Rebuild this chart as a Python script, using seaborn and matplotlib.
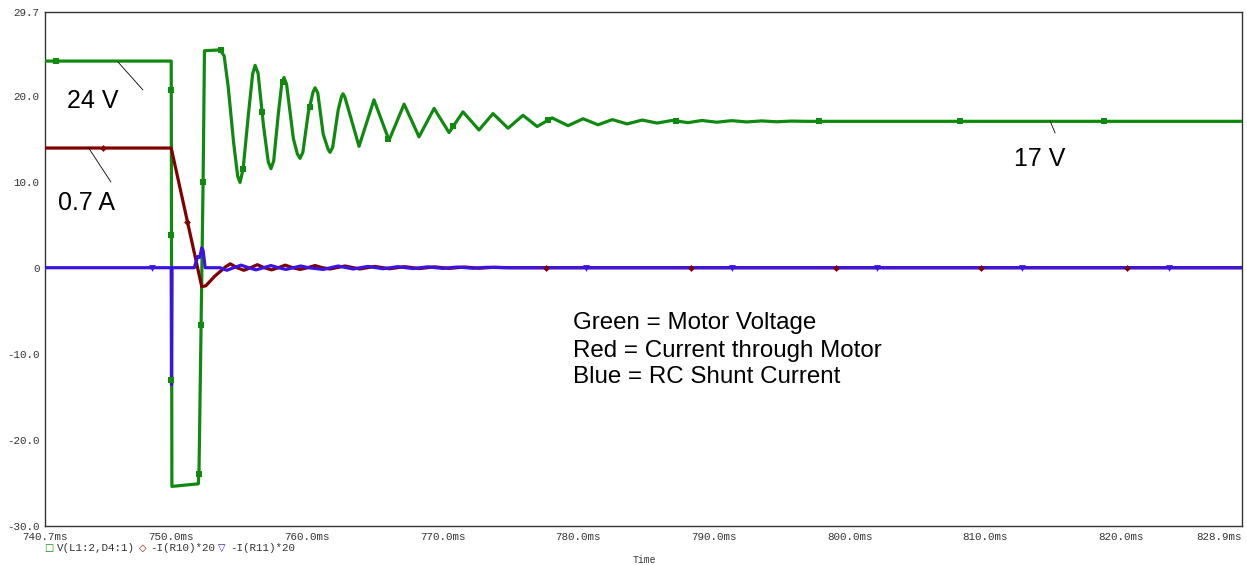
import numpy as np
import matplotlib
matplotlib.use("Agg")
import matplotlib.pyplot as plt
import seaborn as sns

# green trace: V(L1:2,D4:1)
green_t = [740.7, 750.0, 750.05, 752.0, 752.05, 752.35, 752.45, 753.6, 753.9, 754.2, 754.6, 754.9,
           755.07, 755.3, 755.7, 756.0, 756.18, 756.4, 756.8, 757.15, 757.35, 757.55,
           757.9, 758.15, 758.31, 758.5, 759.0, 759.3, 759.49, 759.7, 760.1, 760.45,
           760.6, 760.8, 761.2, 761.55, 761.7, 761.9, 762.3, 762.55, 762.66, 762.8,
           763.84, 764.94, 766.05, 767.16, 768.26, 769.37, 770.47, 771.5, 772.68, 773.71,
           774.82, 775.92, 776.96, 778.06, 779.24, 780.35, 781.45, 782.5, 783.6, 784.7,
           785.8, 786.9, 788.1, 789.1, 790.2, 791.3, 792.4, 793.5, 794.6, 795.7,
           796.8, 828.9]
green_v = [24.0, 24.0, -25.4, -25.1, -23.5, 10.0, 25.2, 25.3, 24.6, 21.0, 14.5, 10.6,
           9.9, 11.5, 18.0, 22.5, 23.5, 22.6, 16.5, 12.3, 11.5, 12.4,
           18.0, 21.4, 22.1, 21.3, 15.0, 13.2, 12.7, 13.4, 18.0, 20.4,
           20.9, 20.3, 15.5, 13.8, 13.4, 14.0, 18.3, 19.9, 20.2, 19.8,
           14.1, 19.5, 14.8, 19.0, 15.2, 18.5, 15.7, 18.1, 16.0, 17.9,
           16.2, 17.7, 16.4, 17.4, 16.5, 17.3, 16.6, 17.2, 16.7, 17.15,
           16.8, 17.1, 16.85, 17.1, 16.9, 17.08, 16.93, 17.05, 16.95, 17.03,
           17.0, 17.0]

# red trace: -I(R10)*20
red_t = [740.7, 750.0, 752.25, 752.55, 753.2, 754.0, 754.35, 754.85, 755.35, 755.85,
         756.35, 756.85, 757.4, 757.9, 758.4, 758.95, 759.5, 760.05, 760.6, 761.15,
         761.7, 762.8, 763.9, 765.0, 766.1, 767.2, 768.3, 769.4, 770.5, 771.6,
         772.7, 773.8, 775.0, 828.9]
red_v = [13.9, 13.9, -2.2, -2.1, -1.0, 0.1, 0.45, 0.0, -0.3, 0.0,
         0.35, 0.0, -0.25, 0.0, 0.3, 0.0, -0.2, 0.0, 0.25, 0.0,
         -0.15, 0.2, -0.15, 0.15, -0.12, 0.12, -0.1, 0.1, -0.08, 0.08,
         -0.06, 0.05, 0.0, 0.0]

# blue trace: -I(R11)*20
blue_t = [740.7, 750.0, 750.02, 750.06, 751.7, 751.95, 752.1, 752.25, 752.35, 752.5,
          753.6, 754.1, 754.6, 755.15, 755.7, 756.25, 756.8, 757.35, 757.9, 758.45,
          759.0, 759.55, 760.1, 761.2, 762.3, 763.4, 764.5, 765.6, 766.7, 767.8,
          768.9, 770.0, 771.1, 772.2, 773.3, 774.5, 828.9]
blue_v = [0, 0, -13.6, 0, 0, 1.3, 1.2, 2.3, 2.0, 0,
          0, -0.3, 0, 0.3, 0, -0.25, 0, 0.25, 0, -0.2,
          0, 0.2, 0, -0.2, 0.2, -0.15, 0.15, -0.12, 0.12, -0.1,
          0.1, -0.08, 0.08, -0.06, 0.05, 0, 0]

# trace symbols
green_mk_t = [741.5, 750.0, 750.0, 750.0, 752.03, 752.2, 752.35, 753.7, 755.3, 756.7,
              758.2, 760.2, 766.0, 770.8, 777.8, 787.2, 797.7, 808.1, 818.7]
green_mk_v = [24.0, 20.6, 3.8, -13.1, -24.0, -6.7, 10.0, 25.3, 11.5, 18.1,
              21.6, 18.7, 14.9, 16.5, 17.2, 17.0, 17.0, 17.0, 17.0]
red_mk_t = [745.0, 751.2, 777.6, 788.3, 799.0, 809.7, 820.4]
red_mk_v = [13.9, 5.3, 0, 0, 0, 0, 0]
blue_mk_t = [748.6, 780.6, 791.3, 802.0, 812.7, 823.5]
blue_mk_v = [0, 0, 0, 0, 0, 0]

xticks = [740.7, 750.0, 760.0, 770.0, 780.0, 790.0, 800.0, 810.0, 820.0, 828.9]
xtick_labels = ['740.7ms', '750.0ms', '760.0ms', '770.0ms', '780.0ms', '790.0ms',
                '800.0ms', '810.0ms', '820.0ms', '828.9ms']
yticks = [-30, -20, -10, 0, 10, 20, 29.7]
ytick_labels = ['-30.0', '-20.0', '-10.0', '0', '10.0', '20.0', '29.7']

legend_labels = ['V(L1:2,D4:1)', '-I(R10)*20', '-I(R11)*20']
notes = ['Green = Motor Voltage', 'Red = Current through Motor', 'Blue = RC Shunt Current']

GREEN = '#0f8a0f'
RED = '#800000'
BLUE = '#3a14e0'
GREY = '#333333'

sns.set_style('white')
plt.rcParams['font.family'] = ['Liberation Sans', 'DejaVu Sans']

W, H = 1247, 565
fig = plt.figure(figsize=(W / 100, H / 100), dpi=100)
ax = fig.add_axes([45 / W, 1 - 526 / H, (1242 - 45) / W, (526 - 12) / H])

sns.lineplot(x=green_t, y=green_v, estimator=None, sort=False, color=GREEN, lw=2.3, ax=ax, zorder=3)
sns.lineplot(x=red_t, y=red_v, estimator=None, sort=False, color=RED, lw=2.3, ax=ax, zorder=4)
sns.lineplot(x=blue_t, y=blue_v, estimator=None, sort=False, color=BLUE, lw=2.3, ax=ax, zorder=5)

sns.scatterplot(x=green_mk_t, y=green_mk_v, marker='s', color=GREEN, s=22, linewidth=0, ax=ax, zorder=6)
sns.scatterplot(x=red_mk_t, y=red_mk_v, marker='D', color=RED, s=12, linewidth=0, ax=ax, zorder=6)
sns.scatterplot(x=blue_mk_t, y=blue_mk_v, marker='v', color=BLUE, s=24, linewidth=0, ax=ax, zorder=6)

ax.set_xlim(740.7, 828.9)
ax.set_ylim(-30, 29.7)
ax.set_xticks(xticks)
ax.set_xticklabels(xtick_labels)
ax.set_yticks(yticks)
ax.set_yticklabels(ytick_labels)
ax.tick_params(direction='out', length=3, width=1, color=GREY, labelcolor=GREY,
               labelsize=7.8, pad=1)
for lab in ax.get_xticklabels() + ax.get_yticklabels():
    lab.set_family('Liberation Mono')
ax.get_xticklabels()[-1].set_ha('right')
for sp in ax.spines.values():
    sp.set_color(GREY)
    sp.set_linewidth(1)
ax.set_xlabel('')
ax.set_ylabel('')

# value labels with pointer lines
ax.plot([746.08, 747.92], [23.89, 20.64], color='black', lw=0.6, zorder=7)
ax.plot([743.87, 745.56], [14.02, 9.95], color='black', lw=0.6, zorder=7)
ax.plot([814.76, 815.13], [17.04, 15.64], color='black', lw=0.6, zorder=7)
ax.text(742.32, 19.35, '24 V', fontsize=18, ha='left', va='center', color='black')
ax.text(741.66, 7.5, '0.7 A', fontsize=18, ha='left', va='center', color='black')
ax.text(812.1, 12.6, '17 V', fontsize=18, ha='left', va='center', color='black')

for txt, yv in zip(notes, [-6.42, -9.67, -12.69]):
    ax.text(779.6, yv, txt, fontsize=17.4, ha='left', va='center', color='black')

# PSpice-style trace legend under the axis
leg_y = 1 - 548 / H
for sym, col, sx, lab, tx in [('\u25a1', GREEN, 49, legend_labels[0], 57),
                              ('\u25c7', RED, 143, legend_labels[1], 150),
                              ('\u25bd', BLUE, 222, legend_labels[2], 230)]:
    fig.text(sx / W, leg_y, sym, color=col, fontsize=7, ha='center', va='center',
             family='DejaVu Sans')
    fig.text(tx / W, leg_y, lab, color=GREY, fontsize=7.8, ha='left', va='center',
             family='Liberation Mono')
fig.text(644 / W, 1 - 560 / H, 'Time', color=GREY, fontsize=7, ha='center', va='center',
         family='Liberation Mono')

fig.savefig('out.png', dpi=100)
